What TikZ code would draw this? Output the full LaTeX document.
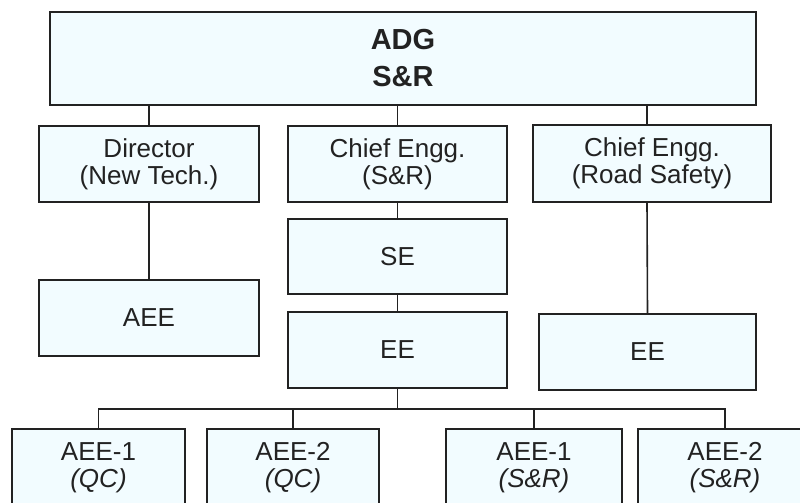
\documentclass[tikz,border=0pt]{standalone}
\usepackage{fontspec}
\setmainfont{Liberation Sans}
\usetikzlibrary{positioning,calc}
\definecolor{boxfill}{HTML}{F2FCFF}
\definecolor{ink}{HTML}{222222}

\begin{document}
\begin{tikzpicture}[
  x=1pt, y=-1pt,
  font=\fontsize{26}{27}\selectfont,
  post/.style={draw=ink, line width=1.6pt, fill=boxfill, align=center, text=ink, inner sep=0pt},
  headbox/.style={post, font=\fontsize{29}{37}\selectfont\bfseries},
  low/.style={post, minimum width=173pt, minimum height=78pt},
  link/.style={draw=ink, line width=1.6pt}]
\clip (0,0) rectangle (800,503);
\fill[white] (0,0) rectangle (800,503);
% head
\node[headbox, minimum width=706pt, minimum height=93pt] (adg) at (403,58.5) {ADG\\S\&R};
% second row
\node[post, minimum width=220pt, minimum height=76pt] (dir) at (149,164) {Director\\(New Tech.)};
\node[post, minimum width=219pt, minimum height=76pt] (cesr) at (397.5,164) {Chief Engg.\\(S\&R)};
\node[post, minimum width=238pt, minimum height=77pt] (cers) at (652,163.5) {Chief Engg.\\(Road Safety)};
% below
\node[post, minimum width=220pt, minimum height=76pt] (aee) at (149,318) {AEE};
\node[post, minimum width=219pt, minimum height=75pt] (se) at (397.5,256.5) {SE};
\node[post, minimum width=219pt, minimum height=76pt] (ee) at (397.5,350) {EE};
\node[post, minimum width=217pt, minimum height=76pt] (eers) at (647.5,352) {EE};
% bottom row
\node[low] (qa) at (98.5,468) {AEE-1\\\textit{(QC)}};
\node[low, minimum width=172pt] (qb) at (293,468) {AEE-2\\\textit{(QC)}};
\node[low, minimum width=176pt] (sa) at (534,468) {AEE-1\\\textit{(S\&R)}};
\node[low, minimum width=174pt] (sb) at (725,468) {AEE-2\\\textit{(S\&R)}};
\coordinate (bus) at (0,409);
\draw[link] (dir.north) -- (dir.north |- adg.south);
\draw[link] (cesr.north) -- (cesr.north |- adg.south);
\draw[link] ([xshift=-5pt]cers.north) -- ([xshift=-5pt]cers.north |- adg.south);
\draw[link] (dir.south) -- (aee.north);
\draw[link] (cesr.south) -- (se.north);
\draw[link] (se.south) -- (ee.north);
\draw[link] ([xshift=-5pt]cers.south) -- (eers.north);
\draw[link] (ee.south) -- (ee.south |- bus);
\draw[link] (qa.north) -- (qa.north |- bus) -| (sb.north);
\draw[link] (qb.north) -- (qb.north |- bus);
\draw[link] (sa.north) -- (sa.north |- bus);
\end{tikzpicture}
\end{document}
